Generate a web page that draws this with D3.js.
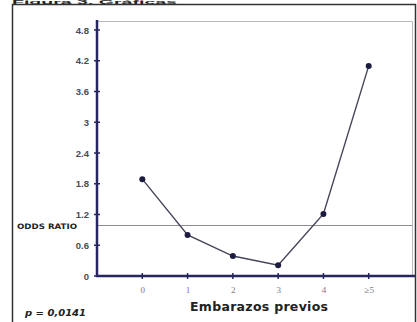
<!DOCTYPE html>
<html><head><meta charset="utf-8">
<script src="https://cdn.jsdelivr.net/npm/d3@7"></script>
<style>html,body{margin:0;padding:0;background:#fff;}svg{display:block;}</style>
</head><body>
<script>
const categories = ["0", "1", "2", "3", "4", "≥5"];
const oddsRatio = [1.89, 0.80, 0.39, 0.21, 1.21, 4.10];
const yTicks = [0, 0.6, 1.2, 1.8, 2.4, 3, 3.6, 4.2, 4.8];
const referenceValue = [1];
const xTitle = "Embarazos previos";
const yTitle = "ODDS RATIO";
const pText = "p = 0,0141";
const heading = "Figura 3. Gráficas";

const W = 417, H = 322;
const svg = d3.select("body").append("svg").attr("width", W).attr("height", H);

const x = d3.scaleLinear().domain([-1, categories.length]).range([97, 414]);
const y = d3.scaleLinear().domain([0, 4.8]).range([276, 30]);
const navy = "#262660";

// heading (thin strip at the very top, as in the reference)
svg.append("text").attr("x", 12).attr("y", 3.6).attr("font-family", "Liberation Sans, Arial, sans-serif")
  .attr("font-weight", "bold").attr("font-size", 4.6).attr("fill", "#222")
  .attr("textLength", 165).attr("lengthAdjust", "spacingAndGlyphs").text(heading);

// outer frame
svg.append("path").attr("d", `M12.5,${H} V4.5 H415.5 V${H}`).attr("fill", "none").attr("stroke", "#333").attr("stroke-width", 1.5);

// plot frame (top/right)
svg.append("path").attr("d", `M97,21.5 H412.5 V276`).attr("fill", "none").attr("stroke", "#b8b8c0").attr("stroke-width", 1);

// reference line
svg.selectAll(".ref").data(referenceValue).enter().append("line")
  .attr("x1", 97).attr("x2", 412).attr("y1", d => Math.round(y(d)) + 0.5).attr("y2", d => Math.round(y(d)) + 0.5)
  .attr("stroke", "#8c8c94").attr("stroke-width", 1.2);

// y axis
const yAxis = d3.axisLeft(y).tickValues(yTicks).tickSize(0).tickPadding(8).tickFormat(d => String(d));
const gy = svg.append("g").attr("transform", "translate(97,0)").call(yAxis);
gy.select(".domain").remove();
gy.selectAll("text").attr("font-family", "Liberation Sans, Arial, sans-serif").attr("font-size", 9.5)
  .attr("font-weight", "bold").attr("fill", "#4a4a58");
svg.append("line").attr("x1", 97).attr("x2", 97).attr("y1", 20).attr("y2", 277).attr("stroke", navy).attr("stroke-width", 2.5);
svg.selectAll(".ytick").data(yTicks).enter().append("line")
  .attr("x1", 94).attr("x2", 100).attr("y1", d => y(d)).attr("y2", d => y(d)).attr("stroke", navy).attr("stroke-width", 1.5);

// x axis
svg.append("line").attr("x1", 96).attr("x2", 415).attr("y1", 276).attr("y2", 276).attr("stroke", navy).attr("stroke-width", 2.5);
const xAxis = d3.axisBottom(x).tickValues(d3.range(categories.length)).tickSize(0).tickPadding(11).tickFormat(i => categories[i]);
const gx = svg.append("g").attr("transform", "translate(0,276)").call(xAxis);
gx.select(".domain").remove();
gx.selectAll("text").attr("font-family", "Liberation Serif, Times New Roman, serif").attr("font-size", 9)
  .attr("fill", "#7a7a80");
svg.selectAll(".xtick").data(d3.range(categories.length)).enter().append("line")
  .attr("x1", d => x(d)).attr("x2", d => x(d)).attr("y1", 273).attr("y2", 279).attr("stroke", navy).attr("stroke-width", 1.5);

// line + points
const line = d3.line().x((d, i) => x(i)).y(d => y(d));
svg.append("path").datum(oddsRatio).attr("d", line).attr("fill", "none").attr("stroke", "#45455a").attr("stroke-width", 1.4);
svg.selectAll(".pt").data(oddsRatio).enter().append("circle")
  .attr("cx", (d, i) => x(i)).attr("cy", d => y(d)).attr("r", 3).attr("fill", "#1c1c40");

// titles
svg.append("text").attr("x", 259).attr("y", 311).attr("text-anchor", "middle")
  .attr("font-family", "DejaVu Sans, Verdana, sans-serif").attr("font-weight", "bold").attr("font-size", 12.5)
  .attr("fill", "#222").attr("textLength", 138).text(xTitle);
svg.append("text").attr("x", 17).attr("y", 229)
  .attr("font-family", "DejaVu Sans, Verdana, sans-serif").attr("font-weight", "bold").attr("font-size", 7.5)
  .attr("fill", "#222").attr("textLength", 60).attr("lengthAdjust", "spacingAndGlyphs").text(yTitle);
svg.append("text").attr("x", 25).attr("y", 316)
  .attr("font-family", "DejaVu Sans, Verdana, sans-serif").attr("font-style", "italic").attr("font-weight", "bold")
  .attr("font-size", 9).attr("fill", "#222").attr("textLength", 61).attr("lengthAdjust", "spacingAndGlyphs").text(pText);
</script>
</body></html>
